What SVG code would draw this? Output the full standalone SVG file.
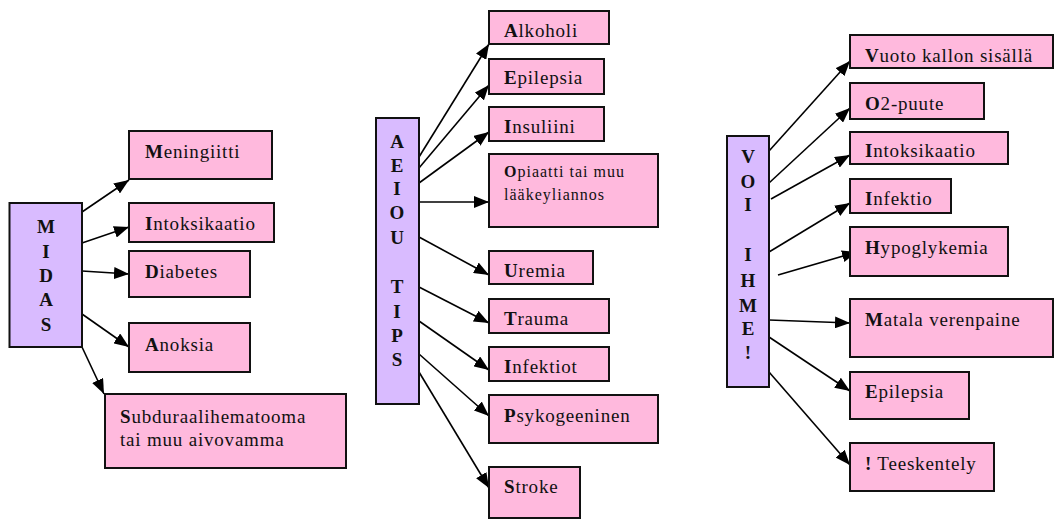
<svg xmlns="http://www.w3.org/2000/svg" width="1054" height="520" viewBox="0 0 1054 520" font-family="'Liberation Serif', 'Times New Roman', serif">
<style>
.hub{fill:#D9BBFF;stroke:#111;stroke-width:2}
.box{fill:#FFB9DD;stroke:#111;stroke-width:2}
text{font-family:'Liberation Serif','Times New Roman',serif;fill:#111}
.lbl{font-size:19px;letter-spacing:0.8px}
.sm{font-size:16px;letter-spacing:1px}
.vt{font-size:19px;font-weight:bold;text-anchor:middle}
.b{font-weight:bold}
.c line{stroke:#000;stroke-width:1.6;marker-end:url(#ah)}
</style>
<defs>
<marker id="ah" markerWidth="15" markerHeight="12" refX="15" refY="6" orient="auto" markerUnits="userSpaceOnUse"><path d="M0,0 L15,6 L0,12 z" fill="#000"/></marker>
</defs>
<rect width="1054" height="520" fill="#fff"/>
<g class="c" id="connectors">
<line x1="82" y1="212" x2="129" y2="180"/>
<line x1="82" y1="243" x2="129" y2="227"/>
<line x1="82" y1="271" x2="129" y2="274"/>
<line x1="82" y1="314" x2="129" y2="347"/>
<line x1="82" y1="347" x2="104" y2="394"/>
<line x1="419" y1="157" x2="489" y2="44"/>
<line x1="419" y1="168" x2="489" y2="85"/>
<line x1="419" y1="183" x2="489" y2="132"/>
<line x1="419" y1="202" x2="489" y2="202"/>
<line x1="419" y1="237" x2="489" y2="275"/>
<line x1="419" y1="287" x2="489" y2="323"/>
<line x1="419" y1="321" x2="489" y2="370"/>
<line x1="419" y1="354" x2="489" y2="416"/>
<line x1="419" y1="372" x2="489" y2="488"/>
<line x1="769" y1="151" x2="850" y2="61"/>
<line x1="769" y1="183" x2="850" y2="108"/>
<line x1="771" y1="199" x2="850" y2="155"/>
<line x1="769" y1="252" x2="850" y2="203"/>
<line x1="778" y1="275" x2="857" y2="252"/>
<line x1="769" y1="320" x2="850" y2="323"/>
<line x1="769" y1="337" x2="850" y2="391"/>
<line x1="769" y1="372" x2="850" y2="465"/>
</g>
<g id="midas"><rect class="hub" x="9.5" y="203" width="72.5" height="144"/>
<text class="vt" x="46" y="233">M</text><text class="vt" x="46" y="258">I</text><text class="vt" x="46" y="282">D</text><text class="vt" x="46" y="306">A</text><text class="vt" x="46" y="331">S</text></g>
<g id="meningiitti"><rect class="box" x="129" y="131" width="143" height="48"/><text class="lbl" x="145" y="158"><tspan class="b">M</tspan>eningiitti</text></g>
<g id="intoksikaatio1"><rect class="box" x="129" y="203" width="145" height="39"/><text class="lbl" x="145" y="230"><tspan class="b">I</tspan>ntoksikaatio</text></g>
<g id="diabetes"><rect class="box" x="129" y="251" width="121" height="46"/><text class="lbl" x="145" y="278"><tspan class="b">D</tspan>iabetes</text></g>
<g id="anoksia"><rect class="box" x="129" y="323" width="121" height="49"/><text class="lbl" x="145" y="351"><tspan class="b">A</tspan>noksia</text></g>
<g id="subdural"><rect class="box" x="105" y="394" width="241" height="74"/><text class="lbl" x="120" y="423"><tspan class="b">S</tspan>ubduraalihematooma</text><text class="lbl" x="120" y="446">tai muu aivovamma</text></g>

<g id="aeiou"><rect class="hub" x="376" y="118" width="43" height="286"/>
<text class="vt" x="397" y="148">A</text><text class="vt" x="397" y="172">E</text><text class="vt" x="397" y="195">I</text><text class="vt" x="397" y="219">O</text><text class="vt" x="397" y="244">U</text><text class="vt" x="397" y="293">T</text><text class="vt" x="397" y="318">I</text><text class="vt" x="397" y="342">P</text><text class="vt" x="397" y="366">S</text></g>
<g id="alkoholi"><rect class="box" x="489" y="11" width="120" height="33"/><text class="lbl" x="504" y="37"><tspan class="b">A</tspan>lkoholi</text></g>
<g id="epilepsia1"><rect class="box" x="489" y="59" width="115" height="35"/><text class="lbl" x="504" y="84"><tspan class="b">E</tspan>pilepsia</text></g>
<g id="insuliini"><rect class="box" x="489" y="107" width="115" height="34"/><text class="lbl" x="504" y="133"><tspan class="b">I</tspan>nsuliini</text></g>
<g id="opiaatti"><rect class="box" x="489" y="154" width="169" height="73"/><text class="sm" x="504" y="177"><tspan class="b">O</tspan>piaatti tai muu</text><text class="sm" x="504" y="200">lääkeyliannos</text></g>
<g id="uremia"><rect class="box" x="489" y="251" width="104" height="33"/><text class="lbl" x="504" y="277"><tspan class="b">U</tspan>remia</text></g>
<g id="trauma"><rect class="box" x="489" y="299" width="120" height="34"/><text class="lbl" x="504" y="325"><tspan class="b">T</tspan>rauma</text></g>
<g id="infektiot"><rect class="box" x="489" y="347" width="120" height="34"/><text class="lbl" x="504" y="373"><tspan class="b">I</tspan>nfektiot</text></g>
<g id="psykogeeninen"><rect class="box" x="489" y="395" width="169" height="48"/><text class="lbl" x="504" y="422"><tspan class="b">P</tspan>sykogeeninen</text></g>
<g id="stroke"><rect class="box" x="489" y="467" width="91" height="51"/><text class="lbl" x="504" y="493"><tspan class="b">S</tspan>troke</text></g>

<g id="voi"><rect class="hub" x="727" y="136" width="42" height="251"/>
<text class="vt" x="748" y="163">V</text><text class="vt" x="748" y="188">O</text><text class="vt" x="748" y="211">I</text><text class="vt" x="748" y="261">I</text><text class="vt" x="748" y="287">H</text><text class="vt" x="748" y="312">M</text><text class="vt" x="748" y="335">E</text><text class="vt" x="748" y="359">!</text></g>
<g id="vuoto"><rect class="box" x="850" y="35" width="203" height="33"/><text class="lbl" x="865" y="62"><tspan class="b">V</tspan>uoto kallon sisällä</text></g>
<g id="o2"><rect class="box" x="850" y="83" width="134" height="36"/><text class="lbl" x="865" y="110"><tspan class="b">O</tspan>2-puute</text></g>
<g id="intoksikaatio2"><rect class="box" x="850" y="132" width="158" height="32"/><text class="lbl" x="865" y="157"><tspan class="b">I</tspan>ntoksikaatio</text></g>
<g id="infektio"><rect class="box" x="850" y="179" width="101" height="34"/><text class="lbl" x="865" y="205"><tspan class="b">I</tspan>nfektio</text></g>
<g id="hypoglykemia"><rect class="box" x="850" y="227" width="158" height="49"/><text class="lbl" x="865" y="254"><tspan class="b">H</tspan>ypoglykemia</text></g>
<g id="matala"><rect class="box" x="850" y="299" width="203" height="58"/><text class="lbl" x="865" y="326"><tspan class="b">M</tspan>atala verenpaine</text></g>
<g id="epilepsia2"><rect class="box" x="850" y="372" width="119" height="47"/><text class="lbl" x="865" y="398"><tspan class="b">E</tspan>pilepsia</text></g>
<g id="teeskentely"><rect class="box" x="850" y="443" width="144" height="48"/><text class="lbl" x="865" y="470"><tspan class="b">!</tspan> Teeskentely</text></g>
</svg>
